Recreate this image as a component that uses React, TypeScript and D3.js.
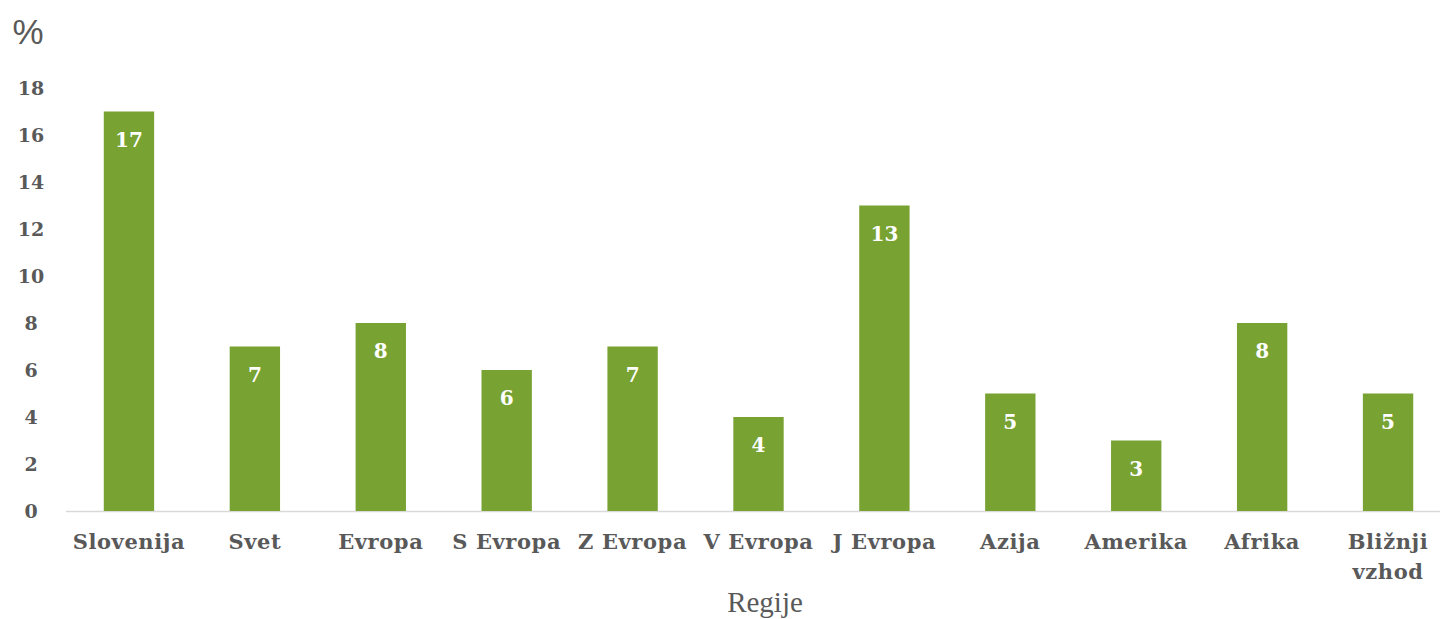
import React from "react";
import * as d3 from "d3";

const categories = ["Slovenija", "Svet", "Evropa", "S Evropa", "Z Evropa", "V Evropa", "J Evropa", "Azija", "Amerika", "Afrika", "Bližnji vzhod"];
const values = [17, 7, 8, 6, 7, 4, 13, 5, 3, 8, 5];
const yTicks = [0, 2, 4, 6, 8, 10, 12, 14, 16, 18];
const yUnit = "%";
const xTitle = "Regije";

const W = 1440;
const H = 619;
const GREEN = "#78A232";
const GRAY = "#595959";
const FONT = "'DejaVu Serif', 'Liberation Serif', serif";

export default function App() {
  const x = d3.scaleBand<string>().domain(categories).range([66, 1451]).paddingInner(0.6).paddingOuter(0.3);
  const y = d3.scaleLinear().domain([0, 18]).range([511, 88]);
  const step = x.step();
  const bw = step * 0.4;
  return (
    <svg width={W} height={H} style={{ position: "absolute", left: 0, top: 0 }}>
      <rect width={W} height={H} fill="#fff" />
      <text x={28} y={44} textAnchor="middle" fontFamily="'Liberation Sans', sans-serif" fontSize={35} fill={GRAY}>{yUnit}</text>
      {yTicks.map((t) => (
        <text key={t} x={31} y={y(t) + 7} textAnchor="middle" fontFamily={FONT} fontWeight="bold" fontSize={19} fill={GRAY}>{t}</text>
      ))}
      <line x1={66} x2={W} y1={y(0) + 0.5} y2={y(0) + 0.5} stroke="#D9D9D9" strokeWidth={1.5} />
      {categories.map((c, i) => {
        const cx = (x(c) as number) + x.bandwidth() / 2;
        const lines = c === "Bližnji vzhod" ? ["Bližnji", "vzhod"] : [c];
        return (
          <g key={c}>
            <rect x={cx - bw / 2} y={y(values[i])} width={bw} height={y(0) - y(values[i])} fill={GREEN} />
            <text x={cx} y={y(values[i]) + 35} textAnchor="middle" fontFamily={FONT} fontWeight="bold" fontSize={20} fill="#fff">{values[i]}</text>
            {lines.map((l, j) => (
              <text key={l} x={cx} y={549 + j * 30} textAnchor="middle" fontFamily={FONT} fontWeight="bold" fontSize={21} letterSpacing={0.6} fill={GRAY}>{l}</text>
            ))}
          </g>
        );
      })}
      <text x={765} y={612} textAnchor="middle" fontFamily="'Liberation Serif', serif" fontSize={29} fill={GRAY}>{xTitle}</text>
    </svg>
  );
}
